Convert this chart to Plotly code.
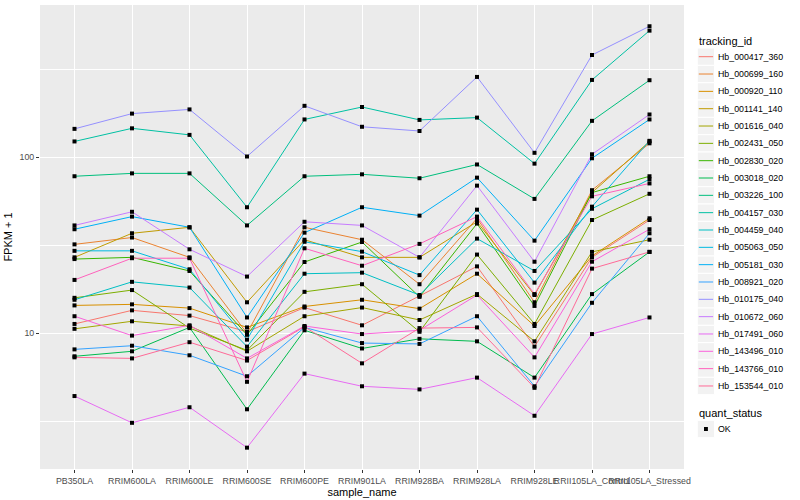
import math
import plotly.graph_objects as go

samples = ["PB350LA", "RRIM600LA", "RRIM600LE", "RRIM600SE", "RRIM600PE", "RRIM901LA",
           "RRIM928BA", "RRIM928LA", "RRIM928LE", "RRII105LA_Control", "RRII105LA_Stressed"]

tracking_ids = ["Hb_000417_360", "Hb_000699_160", "Hb_000920_110", "Hb_001141_140", "Hb_001616_040",
                "Hb_002431_050", "Hb_002830_020", "Hb_003018_020", "Hb_003226_100", "Hb_004157_030",
                "Hb_004459_040", "Hb_005063_050", "Hb_005181_030", "Hb_008921_020", "Hb_010175_040",
                "Hb_010672_060", "Hb_017491_060", "Hb_143496_010", "Hb_143766_010", "Hb_153544_010"]

# FPKM + 1 per sample
hb_000417_360 = [11.3, 13.5, 12.6, 10.2, 14.0, 11.1, 16.3, 24.0, 8.4, 27.0, 44.0]
hb_000699_160 = [32, 35, 27, 10, 40, 34, 19, 45, 15, 65, 120]
hb_000920_110 = [14.4, 14.6, 13.9, 10.8, 14.2, 15.5, 13.8, 21.8, 11.0, 27.5, 45]
hb_001141_140 = [27, 37, 40, 15, 34, 27, 27, 43, 16.5, 63, 123]
hb_001616_040 = [10.6, 11.7, 11.0, 7.9, 12.5, 14.0, 11.9, 16.7, 9.0, 29, 34]
hb_002431_050 = [15.9, 17.6, 10.7, 8.0, 17.2, 19.0, 10.2, 28, 11.3, 44, 62]
hb_002830_020 = [26.4, 27, 22.6, 9.8, 25.4, 33, 16.1, 42, 14.3, 63, 78]
hb_003018_020 = [7.4, 7.9, 10.8, 3.7, 10.4, 8.2, 9.3, 9.0, 5.6, 16.7, 29]
hb_003226_100 = [78, 81, 81, 41, 78, 80, 76, 91, 58, 161, 274]
hb_004157_030 = [123, 146, 134, 52, 164, 193, 163, 168, 92, 275, 524]
hb_004459_040 = [15.5, 19.6, 18.2, 8.4, 21.8, 22.1, 16.5, 34.5, 22.6, 51, 75]
hb_005063_050 = [29.4, 29.4, 23.1, 9.2, 33.1, 29.1, 21.4, 50.4, 19.4, 52.4, 124]
hb_005181_030 = [39, 46, 40, 12.3, 37.3, 52, 46.6, 76.6, 33.6, 98.7, 164]
hb_008921_020 = [8.1, 8.5, 7.5, 5.7, 10.8, 8.8, 8.7, 12.5, 5.0, 14.9, 37]
hb_010175_040 = [145, 177, 187, 101, 196, 149, 141, 286, 106, 381, 555]
hb_010672_060 = [41, 49, 30, 21, 43, 41, 27, 69, 25.5, 104, 175]
hb_017491_060 = [4.4, 3.1, 3.8, 2.24, 5.9, 5.0, 4.8, 5.6, 3.4, 9.9, 12.3]
hb_143496_010 = [12.5, 9.7, 11.1, 7.2, 11.0, 9.9, 10.4, 16.5, 7.3, 25.5, 39]
hb_143766_010 = [20.1, 26.7, 26.7, 5.3, 30.4, 24.2, 32.2, 46, 16.7, 60, 71]
hb_153544_010 = [7.3, 7.2, 8.9, 7.0, 10.9, 6.75, 10.7, 10.8, 4.9, 23.3, 29]

series = [hb_000417_360, hb_000699_160, hb_000920_110, hb_001141_140, hb_001616_040,
          hb_002431_050, hb_002830_020, hb_003018_020, hb_003226_100, hb_004157_030,
          hb_004459_040, hb_005063_050, hb_005181_030, hb_008921_020, hb_010175_040,
          hb_010672_060, hb_017491_060, hb_143496_010, hb_143766_010, hb_153544_010]

quant_status = ["OK"]
y_ticks = [10, 100]
y_minor = [10 ** 0.5, 10 ** 1.5, 10 ** 2.5]


def hcl_hex(h, c=100.0, l=65.0):
    xn, yn, zn = 95.047, 100.0, 108.883
    hr = math.radians(h)
    u, v = c * math.cos(hr), c * math.sin(hr)
    y = yn * ((l + 16) / 116) ** 3
    den = xn + 15 * yn + 3 * zn
    un, vn = 4 * xn / den, 9 * yn / den
    q = u / (13 * l) + un
    r = v / (13 * l) + vn
    x = 9 * y * q / (4 * r)
    z = -x / 3 - 5 * y + 3 * y / r
    x, y, z = x / 100, y / 100, z / 100
    rgb = [3.240479 * x - 1.537150 * y - 0.498535 * z,
           -0.969256 * x + 1.875992 * y + 0.041556 * z,
           0.055648 * x - 0.204043 * y + 1.057311 * z]
    out = []
    for t in rgb:
        t = 12.92 * t if t <= 0.0031308 else 1.055 * t ** (1 / 2.4) - 0.055
        out.append(max(0, min(255, int(round(t * 255)))))
    return "#%02X%02X%02X" % tuple(out)


n = len(tracking_ids)
colors = [hcl_hex(15 + 360 * i / n) for i in range(n)]

fig = go.Figure()
for name, vals, col in zip(tracking_ids, series, colors):
    fig.add_trace(go.Scatter(x=samples, y=vals, mode="lines", name=name,
                             line=dict(color=col, width=1), showlegend=False))
for name, vals in zip(tracking_ids, series):
    fig.add_trace(go.Scatter(x=samples, y=vals, mode="markers", name=name,
                             marker=dict(symbol="square", size=4, color="black"),
                             showlegend=False))

W, H = 800, 500
ML, MR, MT, MB = 40, 116, 5, 31
PW, PH = W - ML - MR, H - MT - MB


def fx(px):
    return (px - ML) / PW


def fy(py):
    return (H - MB - py) / PH


shapes = []
annotations = []
font_family = "Liberation Sans, Arial, sans-serif"

annotations.append(dict(x=fx(696.5), y=fy(40.7), xref="paper", yref="paper", text="tracking_id",
                        showarrow=False, xanchor="left", yanchor="middle",
                        font=dict(size=11, color="black", family=font_family)))
key_x0, key_x1, key_h = 697.3, 714.6, 17.28
for i, (name, col) in enumerate(zip(tracking_ids, colors)):
    cy = 56.7 + i * 17.33
    shapes.append(dict(type="rect", xref="paper", yref="paper", x0=fx(key_x0), x1=fx(key_x1),
                       y0=fy(cy - key_h / 2), y1=fy(cy + key_h / 2),
                       fillcolor="#F2F2F2", line=dict(color="white", width=1), layer="above"))
    shapes.append(dict(type="line", xref="paper", yref="paper", x0=fx(698.8), x1=fx(713.1),
                       y0=fy(cy), y1=fy(cy), line=dict(color=col, width=1), layer="above"))
    annotations.append(dict(x=fx(715.8), y=fy(cy), xref="paper", yref="paper", text=name,
                            showarrow=False, xanchor="left", yanchor="middle",
                            font=dict(size=8.8, color="black", family=font_family)))

annotations.append(dict(x=fx(696.5), y=fy(412.5), xref="paper", yref="paper", text="quant_status",
                        showarrow=False, xanchor="left", yanchor="middle",
                        font=dict(size=11, color="black", family=font_family)))
for j, qs in enumerate(quant_status):
    cy = 429.0 + j * 17.33
    shapes.append(dict(type="rect", xref="paper", yref="paper", x0=fx(key_x0), x1=fx(key_x1),
                       y0=fy(cy - key_h / 2), y1=fy(cy + key_h / 2),
                       fillcolor="#F2F2F2", line=dict(color="white", width=1), layer="above"))
    shapes.append(dict(type="rect", xref="paper", yref="paper", x0=fx(704.0), x1=fx(707.9),
                       y0=fy(cy - 2), y1=fy(cy + 2), fillcolor="black",
                       line=dict(color="black", width=0), layer="above"))
    annotations.append(dict(x=fx(715.8), y=fy(cy), xref="paper", yref="paper", text=qs,
                            showarrow=False, xanchor="left", yanchor="middle",
                            font=dict(size=8.8, color="black", family=font_family)))

fig.update_layout(
    width=W, height=H,
    margin=dict(l=ML, r=MR, t=MT, b=MB, pad=0),
    paper_bgcolor="white", plot_bgcolor="#EBEBEB",
    font=dict(family=font_family, size=11, color="black"),
    shapes=shapes, annotations=annotations,
    showlegend=False,
    xaxis=dict(
        type="category", categoryorder="array", categoryarray=samples,
        range=[-0.6, len(samples) - 1 + 0.6],
        showgrid=True, gridcolor="white", gridwidth=1.1, zeroline=False, showline=False,
        ticks="outside", ticklen=3, tickwidth=1, tickcolor="#333333", tickangle=0,
        tickfont=dict(size=8.8, color="#4D4D4D", family=font_family),
        title=dict(text="sample_name", font=dict(size=11, color="black", family=font_family), standoff=2),
        automargin=False, fixedrange=True,
    ),
    yaxis=dict(
        type="log", range=[0.229, 2.865],
        tickvals=y_ticks, ticktext=[str(t) for t in y_ticks],
        showgrid=True, gridcolor="white", gridwidth=1.1, zeroline=False, showline=False,
        ticks="outside", ticklen=3, tickwidth=1, tickcolor="#333333",
        tickfont=dict(size=8.8, color="#4D4D4D", family=font_family),
        minor=dict(tickvals=y_minor, showgrid=True, gridcolor="white", gridwidth=0.55, ticks=""),
        title=dict(text="FPKM + 1", font=dict(size=11, color="black", family=font_family), standoff=4),
        automargin=False, fixedrange=True,
    ),
)

fig.write_html("out.html",
               config={"displayModeBar": False, "staticPlot": False},
               post_script="document.body.style.margin='0px';document.body.style.padding='0px';")
